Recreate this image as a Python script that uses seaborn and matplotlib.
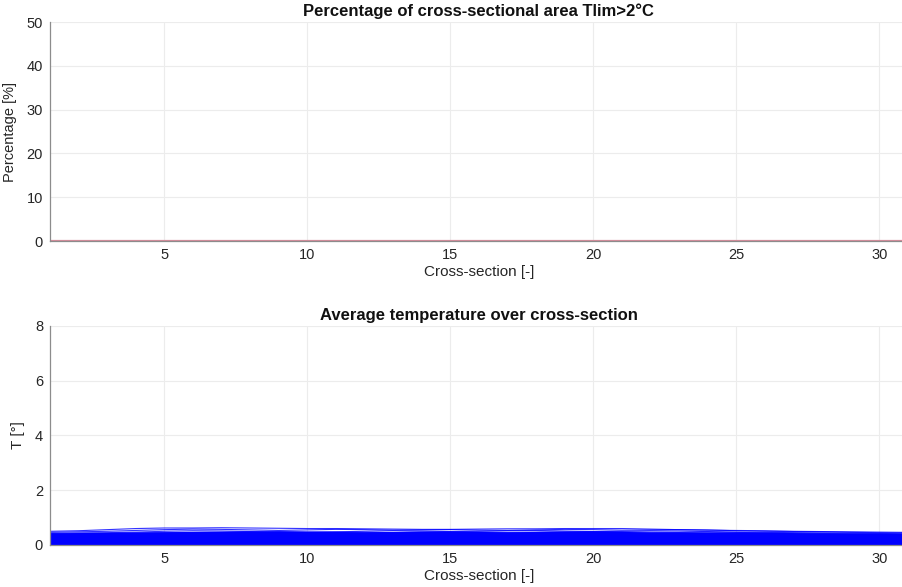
import numpy as np
import pandas as pd
import matplotlib
matplotlib.use("Agg")
import matplotlib.pyplot as plt
import seaborn as sns

# cross-section index
sections = list(range(1, 32))

# percentage of area above Tlim (all zero)
pct_above = [0.0] * 31

# average temperature per cross-section, one list per time step
t_upper1 = [0.50, 0.52, 0.56, 0.60, 0.62, 0.62, 0.63, 0.62, 0.61, 0.60, 0.60,
            0.59, 0.58, 0.57, 0.57, 0.58, 0.59, 0.59, 0.60, 0.60, 0.60, 0.58,
            0.56, 0.54, 0.53, 0.52, 0.50, 0.49, 0.48, 0.47, 0.46]
t_upper2 = [0.46, 0.48, 0.50, 0.53, 0.56, 0.58, 0.57, 0.55, 0.53, 0.55, 0.57,
            0.56, 0.54, 0.55, 0.56, 0.54, 0.53, 0.55, 0.57, 0.56, 0.54, 0.55,
            0.56, 0.55, 0.52, 0.50, 0.49, 0.48, 0.46, 0.45, 0.44]
t_upper3 = [0.42, 0.44, 0.45, 0.47, 0.50, 0.52, 0.51, 0.49, 0.47, 0.46, 0.48,
            0.50, 0.52, 0.51, 0.49, 0.50, 0.52, 0.53, 0.51, 0.49, 0.50, 0.52,
            0.51, 0.49, 0.47, 0.46, 0.45, 0.44, 0.43, 0.42, 0.41]
t_upper4 = [0.40, 0.41, 0.42, 0.44, 0.45, 0.46, 0.47, 0.48, 0.49, 0.48, 0.47,
            0.46, 0.45, 0.47, 0.48, 0.47, 0.46, 0.47, 0.48, 0.49, 0.48, 0.47,
            0.46, 0.47, 0.46, 0.44, 0.43, 0.42, 0.41, 0.40, 0.39]
t_band1 = [0.36, 0.37, 0.38, 0.39, 0.40, 0.41, 0.41, 0.42, 0.42, 0.41, 0.41,
           0.40, 0.41, 0.42, 0.42, 0.41, 0.40, 0.41, 0.42, 0.42, 0.41, 0.40,
           0.40, 0.39, 0.39, 0.38, 0.37, 0.36, 0.35, 0.35, 0.34]
t_band2 = [0.31, 0.32, 0.33, 0.34, 0.35, 0.35, 0.36, 0.36, 0.36, 0.35, 0.35,
           0.35, 0.36, 0.36, 0.35, 0.35, 0.35, 0.36, 0.36, 0.35, 0.35, 0.35,
           0.34, 0.34, 0.33, 0.33, 0.32, 0.31, 0.31, 0.30, 0.30]
t_band3 = [0.26, 0.27, 0.27, 0.28, 0.29, 0.29, 0.30, 0.30, 0.30, 0.29, 0.29,
           0.29, 0.30, 0.30, 0.29, 0.29, 0.29, 0.30, 0.30, 0.29, 0.29, 0.29,
           0.28, 0.28, 0.28, 0.27, 0.27, 0.26, 0.26, 0.25, 0.25]
t_band4 = [0.21, 0.21, 0.22, 0.22, 0.23, 0.23, 0.24, 0.24, 0.24, 0.23, 0.23,
           0.23, 0.24, 0.24, 0.23, 0.23, 0.23, 0.24, 0.24, 0.23, 0.23, 0.23,
           0.22, 0.22, 0.22, 0.21, 0.21, 0.21, 0.20, 0.20, 0.20]
t_band5 = [0.16, 0.16, 0.17, 0.17, 0.17, 0.18, 0.18, 0.18, 0.18, 0.18, 0.17,
           0.17, 0.18, 0.18, 0.18, 0.17, 0.17, 0.18, 0.18, 0.18, 0.17, 0.17,
           0.17, 0.17, 0.16, 0.16, 0.16, 0.16, 0.15, 0.15, 0.15]
t_band6 = [0.11, 0.11, 0.12, 0.12, 0.12, 0.12, 0.13, 0.13, 0.13, 0.12, 0.12,
           0.12, 0.13, 0.13, 0.12, 0.12, 0.12, 0.13, 0.13, 0.12, 0.12, 0.12,
           0.12, 0.12, 0.11, 0.11, 0.11, 0.11, 0.10, 0.10, 0.10]
t_band7 = [0.06, 0.06, 0.07, 0.07, 0.07, 0.07, 0.07, 0.08, 0.08, 0.07, 0.07,
           0.07, 0.07, 0.08, 0.07, 0.07, 0.07, 0.07, 0.08, 0.07, 0.07, 0.07,
           0.07, 0.07, 0.06, 0.06, 0.06, 0.06, 0.06, 0.06, 0.06]
t_band8 = [0.02, 0.02, 0.02, 0.02, 0.02, 0.02, 0.03, 0.03, 0.03, 0.02, 0.02,
           0.02, 0.03, 0.03, 0.02, 0.02, 0.02, 0.03, 0.03, 0.02, 0.02, 0.02,
           0.02, 0.02, 0.02, 0.02, 0.02, 0.02, 0.02, 0.02, 0.02]

upper_runs = [t_upper1, t_upper2, t_upper3, t_upper4]
band_runs = [t_band1, t_band2, t_band3, t_band4, t_band5, t_band6, t_band7, t_band8]

def to_long(runs, tag):
    rows = []
    for i, vals in enumerate(runs):
        for s, v in zip(sections, vals):
            rows.append({"section": s, "T": v, "run": f"{tag}{i}"})
    return pd.DataFrame(rows)

df_upper = to_long(upper_runs, "u")
df_band = to_long(band_runs, "b")
df_pct = pd.DataFrame({"section": sections, "pct": pct_above})

sns.set_theme(style="whitegrid")
plt.rcParams["font.family"] = ["Liberation Sans", "DejaVu Sans"]

fig = plt.figure(figsize=(9.02, 5.87), dpi=100)
ax1 = fig.add_axes([0.0554, 0.5894, 0.951, 0.3731])
ax2 = fig.add_axes([0.0554, 0.0716, 0.951, 0.3731])

sns.lineplot(data=df_pct, x="section", y="pct", ax=ax1,
             color="#d98c9c", linewidth=1.6)

sns.lineplot(data=df_band, x="section", y="T", units="run", estimator=None,
             ax=ax2, color="#0000ff", linewidth=2.6)
sns.lineplot(data=df_upper, x="section", y="T", units="run", estimator=None,
             ax=ax2, color="#0000ff", linewidth=0.8, alpha=0.8)

for ax, ylim, yt in [(ax1, (0, 50), range(0, 51, 10)), (ax2, (0, 8), range(0, 9, 2))]:
    ax.set_xlim(1, 31)
    ax.set_ylim(*ylim)
    ax.set_xticks(range(5, 31, 5))
    ax.set_yticks(list(yt))
    ax.grid(True, color="#ececec", linewidth=0.8)
    ax.set_facecolor("white")
    for side in ["top", "right"]:
        ax.spines[side].set_visible(False)
    for side in ["left", "bottom"]:
        ax.spines[side].set_color("#8c8c8c")
        ax.spines[side].set_linewidth(0.9)
    ax.tick_params(direction="in", length=4, width=0.8, color="#8c8c8c",
                   labelsize=10.5, labelcolor="#262626", pad=5)
    ax.set_xlabel("Cross-section [-]", fontsize=11, color="#262626", labelpad=2)

ax1.set_ylabel("Percentage [%]", fontsize=10.5, color="#262626", labelpad=7)
ax2.set_ylabel("T [°]", fontsize=11, color="#262626", labelpad=7)
ax1.set_title("Percentage of cross-sectional area Tlim>2°C",
              fontsize=12, fontweight="bold", color="#111111", pad=4)
ax2.set_title("Average temperature over cross-section",
              fontsize=12, fontweight="bold", color="#111111", pad=4)

fig.savefig("out.png", dpi=100)
